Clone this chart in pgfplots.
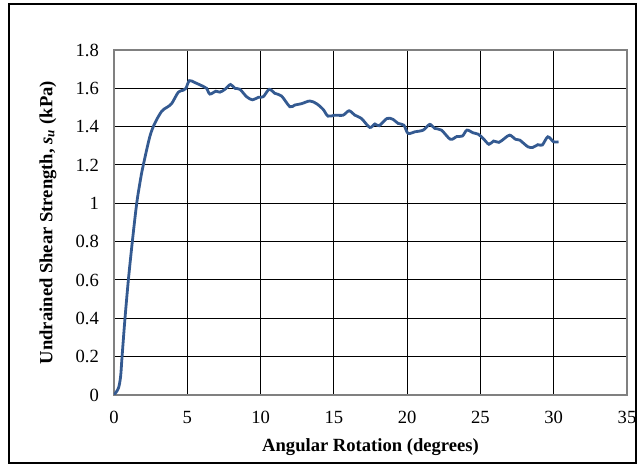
\documentclass[border=0pt]{standalone}
\usepackage{fontspec}
\setmainfont{Liberation Serif}
\usepackage{pgfplots}
\pgfplotsset{compat=1.18}
\definecolor{curve}{RGB}{52,90,145}
\definecolor{axgray}{RGB}{128,128,128}
\begin{document}
\begin{tikzpicture}
\useasboundingbox (0,0) rectangle (318.5pt,233pt);
\draw[black, line width=0.75pt] (4.5pt,1.5pt) rectangle (318pt,231pt);
\begin{axis}[
  at={(57pt,35.5pt)}, anchor=south west,
  scale only axis, width=256.5pt, height=172.5pt,
  xmin=0, xmax=35, ymin=0, ymax=1.8,
  xtick={0,5,...,35},
  ytick={0,0.2,...,1.8},
  yticklabels={0,0.2,0.4,0.6,0.8,1,1.2,1.4,1.6,1.8},
  major tick length=0pt,
  grid=major,
  major grid style={black, line width=0.5pt},
  axis line style={axgray, line width=0.75pt},
  /pgf/number format/assume math mode=true,
  tick label style={font=\fontsize{9.3}{11}\selectfont},
  xticklabel shift=4.5pt,
  yticklabel shift=4pt,
  xlabel={\bfseries Angular Rotation (degrees)},
  ylabel={\bfseries Undrained Shear Strength, \textit{s}\textsubscript{\textit{u}} (kPa)},
  label style={font=\fontsize{9.3}{11}\selectfont},
  xlabel style={at={(axis description cs:0.5,0)}, anchor=center, yshift=-26pt},
  ylabel style={at={(axis description cs:0,0.5)}, anchor=center, rotate=0, yshift=33pt},
]
\addplot[curve, line width=1.4pt, smooth, no marks] coordinates {
(0,0) (0.3,0.035) (0.45,0.096) (0.55,0.2) (0.75,0.4) (0.98,0.6) (1.25,0.8)
(1.55,1.0) (1.82,1.13) (2.0,1.2) (2.45,1.35) (2.8,1.42) (3.25,1.48) (3.59,1.50)
(3.93,1.52) (4.39,1.58) (4.73,1.59) (4.91,1.60) (5.14,1.64) (5.52,1.63) (6.09,1.61)
(6.32,1.60) (6.54,1.57) (6.95,1.585) (7.23,1.58) (7.57,1.595) (7.95,1.62) (8.25,1.60)
(8.59,1.595) (9.05,1.556) (9.45,1.54) (9.84,1.553) (10.18,1.556) (10.59,1.595)
(10.97,1.574) (11.43,1.56) (12.0,1.504) (12.34,1.513) (12.8,1.52) (13.36,1.534)
(13.82,1.52) (14.27,1.49) (14.6,1.455) (15.07,1.46) (15.63,1.46) (16.04,1.483)
(16.43,1.46) (16.88,1.443) (17.45,1.396) (17.8,1.414) (18.09,1.405) (18.63,1.443)
(19.04,1.438) (19.38,1.417) (19.77,1.408) (20.06,1.365) (20.52,1.373) (21.1,1.382)
(21.54,1.412) (21.88,1.391) (22.34,1.382) (22.95,1.334) (23.4,1.349) (23.77,1.351)
(24.08,1.382) (24.49,1.368) (24.84,1.361) (25.18,1.339) (25.58,1.308) (25.9,1.325)
(26.26,1.318) (26.65,1.339) (27.0,1.356) (27.4,1.334) (27.68,1.33) (28.24,1.295)
(28.58,1.292) (28.92,1.306) (29.22,1.304) (29.6,1.347) (29.99,1.321) (30.33,1.321)
};
\end{axis}
\end{tikzpicture}
\end{document}
